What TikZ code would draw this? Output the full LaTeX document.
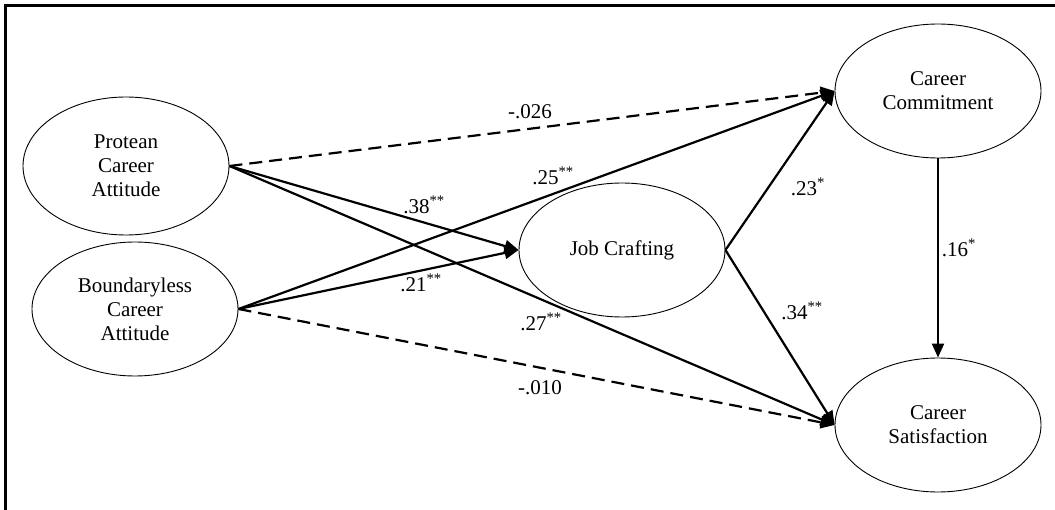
\documentclass[tikz,border=0pt]{standalone}
\usepackage{fontspec}
\setmainfont{Liberation Serif}
\usetikzlibrary{shapes.geometric,arrows.meta}
\begin{document}
\begin{tikzpicture}[x=1pt,y=-1pt,
  latent/.style={draw,ellipse,line width=0.9pt,inner sep=0pt,minimum width=206pt,minimum height=134pt,align=center,font=\fontsize{21}{24}\selectfont},
  path/.style={line width=2.2pt,-{Triangle[length=14pt,width=12pt]}},
  nspath/.style={path,dash pattern=on 13pt off 7pt},
  coef/.style={inner sep=0pt,font=\fontsize{21}{24}\selectfont}]
\useasboundingbox (0,0) rectangle (1055,510);
\draw[line width=3pt] (5,510) -- (5,6) -- (1055,6);
\node[latent,minimum height=138pt] (pca) at (126,166) {Protean\\Career\\Attitude};
\node[latent] (bca) at (135,309) {Boundaryless\\Career\\Attitude};
\node[latent] (jc) at (622,250) {Job Crafting};
\node[latent] (cc) at (938,91) {Career\\Commitment};
\node[latent] (cs) at (938,425) {Career\\Satisfaction};
\draw[nspath] (pca.east) -- (cc.west);
\draw[path] (pca.east) -- (jc.west);
\draw[path] (pca.east) -- (cs.west);
\draw[path] (bca.east) -- (cc.west);
\draw[path] (bca.east) -- (jc.west);
\draw[nspath] (bca.east) -- (cs.west);
\draw[path] (jc.east) -- (cc.west);
\draw[path] (jc.east) -- (cs.west);
\draw[path] (cc.south) -- (cs.north);
\node[coef] (l1) at (530,112) {-.026};
\node[coef] (l2) at (424,205) {.38\textsuperscript{**}};
\node[coef] (l3) at (553,176) {.25\textsuperscript{**}};
\node[coef] (l4) at (421,283) {.21\textsuperscript{**}};
\node[coef] (l5) at (541,322) {.27\textsuperscript{**}};
\node[coef] (l6) at (540,388) {-.010};
\node[coef] (l7) at (808,187) {.23\textsuperscript{*}};
\node[coef] (l8) at (802,311) {.34\textsuperscript{**}};
\node[coef] (l9) at (959,248) {.16\textsuperscript{*}};
\end{tikzpicture}
\end{document}
